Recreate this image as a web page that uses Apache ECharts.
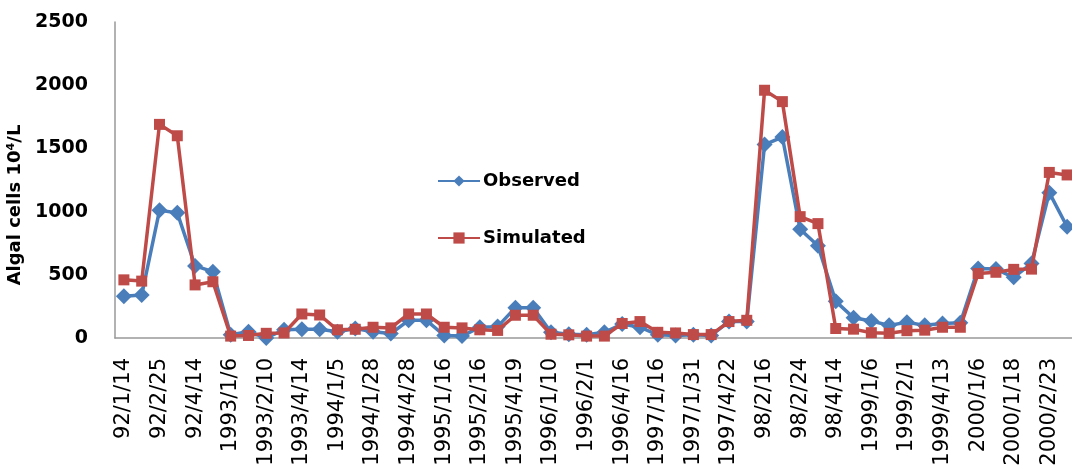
<!DOCTYPE html>
<html>
<head>
<meta charset="utf-8">
<script src="https://cdn.jsdelivr.net/npm/echarts@6/dist/echarts.min.js"></script>
<style>html,body{margin:0;padding:0;background:#fff;}#c{width:1072px;height:472px;}</style>
</head>
<body>
<div id="c"></div>
<script>
// Tick labels shown on every second sample
const tickLabels = ['92/1/14','92/2/25','92/4/14','1993/1/6','1993/2/10','1993/4/14','1994/1/5','1994/1/28','1994/4/28','1995/1/16','1995/2/16','1995/4/19','1996/1/10','1996/2/1','1996/4/16','1997/1/16','1997/1/31','1997/4/22','98/2/16','98/2/24','98/4/14','1999/1/6','1999/2/1','1999/4/13','2000/1/6','2000/1/18','2000/2/23'];
const observed = [330,340,1010,990,570,525,25,50,0,65,70,70,50,75,50,35,140,140,20,15,85,90,240,240,45,30,25,45,110,85,25,20,25,20,130,130,1530,1590,860,730,290,160,135,100,125,100,115,120,550,545,480,590,1150,880];
const simulated = [460,450,1690,1600,420,445,15,20,37,40,190,182,65,69,85,80,190,190,85,80,65,60,180,180,30,25,15,15,115,130,45,40,27,27,130,140,1960,1870,960,905,75,70,42,37,58,62,85,85,510,520,543,545,1310,1290];

const categories = observed.map((v, i) => (i % 2 === 0 ? tickLabels[i / 2] : 's' + i));

const chart = echarts.init(document.getElementById('c'));
chart.setOption({
  animation: false,
  backgroundColor: '#fff',
  grid: { left: 115, top: 22, width: 961, bottom: 134, containLabel: false, outerBoundsMode: 'none' },
  legend: {
    orient: 'vertical',
    left: 432, top: 167,
    itemGap: 39, itemWidth: 42, itemHeight: 14,
    textStyle: { fontFamily: 'DejaVu Sans', fontWeight: 'bold', fontSize: 18, color: '#000', padding: [0,0,0,-2] },
    data: ['Observed', 'Simulated']
  },
  xAxis: {
    type: 'category',
    data: categories,
    boundaryGap: true,
    axisLine: { lineStyle: { color: '#999', width: 1.5 } },
    axisTick: { show: false },
    axisLabel: {
      interval: 0, rotate: 90, margin: 20,
      fontFamily: 'DejaVu Sans', fontSize: 21, color: '#000',
      formatter: (v, i) => (i % 2 === 0 ? tickLabels[i / 2] : '')
    }
  },
  yAxis: {
    type: 'value', min: 0, max: 2500, interval: 500,
    name: 'Algal cells 10\u2074/L',
    nameLocation: 'middle', nameGap: 84, nameRotate: 90,
    nameTextStyle: { fontFamily: 'DejaVu Sans', fontWeight: 'bold', fontSize: 18, color: '#000', padding: [0, 50, 0, 0] },
    axisLine: { show: true, lineStyle: { color: '#999', width: 1.5 } },
    axisTick: { show: false },
    splitLine: { show: false },
    axisLabel: { margin: 27, fontFamily: 'DejaVu Sans', fontWeight: 'bold', fontSize: 19, color: '#000', formatter: (v) => String(v) }
  },
  series: [
    {
      name: 'Observed', type: 'line', data: observed,
      symbol: 'diamond', symbolSize: 16,
      lineStyle: { color: '#4A7EBB', width: 3.5 },
      itemStyle: { color: '#4A7EBB' },
      z: 2
    },
    {
      name: 'Simulated', type: 'line', data: simulated,
      symbol: 'rect', symbolSize: 11,
      lineStyle: { color: '#BE4B48', width: 3.5 },
      itemStyle: { color: '#BE4B48' },
      z: 3
    }
  ]
});
</script>
</body>
</html>
